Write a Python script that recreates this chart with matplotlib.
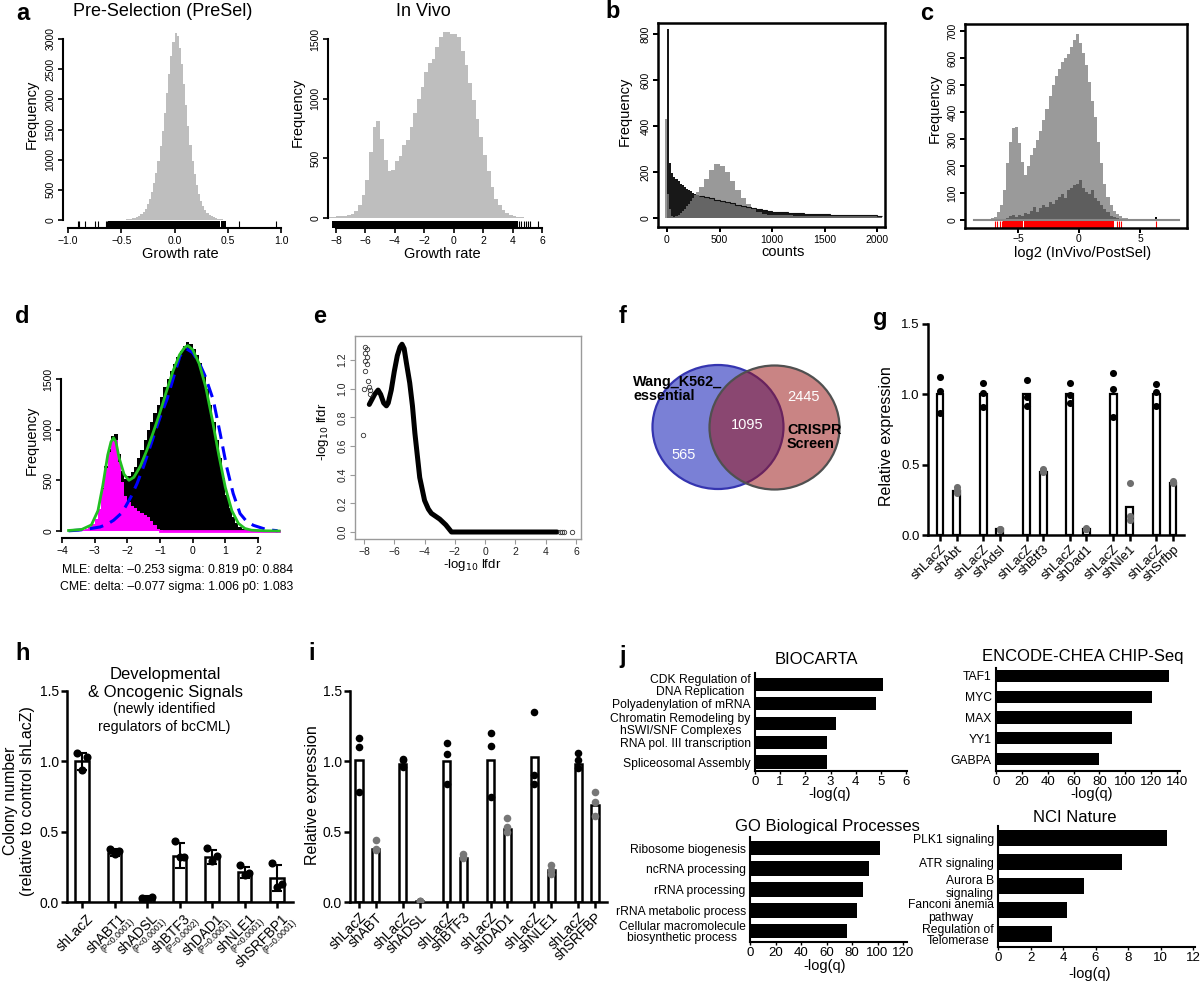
import numpy as np
import matplotlib
matplotlib.use('Agg')
import matplotlib.pyplot as plt
from matplotlib.patches import Ellipse

plt.rcParams['font.family'] = ['Liberation Sans', 'DejaVu Sans']

W, H = 1200, 981
fig = plt.figure(figsize=(W / 100, H / 100), dpi=100)

# ======================= DATA =======================
# a (left): Pre-selection growth rate histogram
a1_range = (-0.5, 0.5)
a1_counts = [5, 8, 10, 12, 18, 25, 35, 50, 70, 100, 140, 190, 260, 350, 470,
             610, 780, 980, 1220, 1480, 1780, 2100, 2420, 2720, 2950, 3100, 3050,
             2850, 2580, 2260, 1900, 1560, 1250, 980, 760, 580, 430, 320, 230, 165,
             120, 85, 60, 42, 30, 20, 14, 10, 7, 5]
a1_rug_dense = [(-0.62, 0.43), (0.44, 0.48)]
a1_rug_sparse = [-0.91, -0.895, -0.845, -0.745, -0.72, -0.64, -0.63, 0.61, 0.95]

# a (right): In vivo growth rate histogram
a2_range = (-8.5, 5.5)
a2_counts = [8, 12, 14, 16, 18, 22, 35, 60, 105, 190, 320, 550, 760, 810, 660,
             490, 390, 400, 480, 520, 610, 650, 760, 880, 1000, 1100, 1220, 1300,
             1330, 1430, 1520, 1560, 1555, 1545, 1540, 1520, 1400, 1280, 1130, 990,
             830, 680, 530, 390, 260, 160, 105, 65, 40, 25, 15, 10, 6, 4, 2, 1]
a2_rug_dense = [(-8.3, 4.35)]
a2_rug_sparse = [4.42, 4.6, 4.78, 4.93, 5.04, 5.16, 5.73]

# b: count histograms (A = dark, B = gray)
b_edges_fine = list(range(0, 301, 20))
b_edges_coarse = list(range(350, 2051, 50))
bA_counts = [820, 240, 195, 180, 170, 160, 150, 142, 135, 128, 122, 116, 110, 105, 100,
             95, 90, 85, 80, 74, 70, 64, 58, 53, 48, 42, 38, 34, 31,
             28, 26, 25, 23, 22, 20, 19, 18, 17, 16, 16, 15, 14, 14, 13, 13, 12, 12, 11, 11, 10]
bB_first_edge = -20
bB_counts = [430, 105, 40, 8, 6, 9, 15, 22, 30, 40, 51, 62, 73, 85, 98, 112,
             135, 168, 210, 235, 225, 200, 160, 120, 85, 60, 40, 26, 18, 14,
             12, 12, 11, 11, 10, 10, 10, 10, 9, 9, 9, 9, 9, 8, 8, 8, 8, 8, 8, 8, 8]

# c: log2(InVivo/PostSel)
c_light_range = (-7.5, 5.0)
c_light = [3, 6, 12, 28, 55, 110, 210, 290, 340, 345, 285, 215, 165, 200, 240,
           265, 295, 330, 370, 410, 460, 500, 535, 560, 585, 600, 615, 640, 665,
           690, 655, 620, 575, 510, 440, 380, 290, 210, 135, 85, 55, 35, 22, 14,
           9, 6, 4, 2, 1, 1]
c_dark_range = (-6.5, 3.75)
c_dark = [2, 5, 8, 14, 18, 12, 20, 16, 25, 22, 35, 50, 30, 45, 55, 48, 65, 58, 75,
          85, 95, 80, 110, 120, 130, 135, 150, 120, 105, 95, 110, 80, 70, 55, 40,
          28, 15, 10, 6, 3, 1]
c_baseline = (-8.6, 8.2)
c_outlier = (6.3, 10)
c_rug_dense = [(-6.2, -4.6), (-4.5, 2.9)]
c_rug_sparse = [-6.85, -6.7, -6.45, -6.3, 3.1, 3.25, 3.45, 6.3]

# d: mixture fit
d_range = (-3.8, 2.2)
d_black = [2, 4, 6, 9, 13, 22, 40, 70, 120, 220, 420, 640, 810, 940, 960, 760, 590,
           515, 540, 580, 630, 720, 800, 900, 1000, 1080, 1160, 1240, 1320, 1420,
           1500, 1580, 1650, 1720, 1780, 1830, 1870, 1850, 1800, 1740, 1660, 1540,
           1400, 1240, 1080, 900, 720, 520, 360, 230, 140, 75, 40, 18, 8, 4, 2, 1, 0, 0]
d_mag_range = (-3.8, -0.9)
d_magenta = [2, 4, 6, 9, 13, 22, 40, 70, 120, 215, 410, 620, 780, 900, 900, 680,
             480, 350, 290, 250, 230, 195, 175, 160, 140, 100, 60, 20, 5]
d_magenta_base = (-1.0, 2.65)
d_green_x = [-3.8, -3.4, -3.1, -2.9, -2.75, -2.6, -2.5, -2.42, -2.35, -2.25, -2.1, -1.95,
             -1.8, -1.6, -1.4, -1.2, -1.0, -0.8, -0.6, -0.4, -0.25, -0.15, 0.0, 0.2, 0.4,
             0.6, 0.8, 1.0, 1.2, 1.4, 1.6, 1.8, 2.2, 2.65]
d_green_y = [5, 15, 60, 200, 450, 750, 880, 920, 880, 720, 560, 500, 530, 640, 800,
             980, 1170, 1380, 1580, 1740, 1810, 1830, 1790, 1650, 1420, 1100, 750,
             430, 200, 75, 25, 8, 2, 0]
d_blue_x = [-3.8, -3.5, -3.2, -2.83, -2.6, -2.42, -2.2, -2.06, -1.9, -1.7, -1.5, -1.3,
            -1.0, -0.79, -0.6, -0.39, -0.2, 0.0, 0.2, 0.38, 0.63, 0.84, 1.04, 1.24,
            1.45, 1.65, 1.86, 2.27, 2.6]
d_blue_y = [2, 8, 20, 40, 70, 106, 170, 238, 330, 470, 640, 833, 1120, 1295, 1500,
            1725, 1800, 1760, 1660, 1530, 1295, 965, 634, 370, 172, 95, 56, 13, 3]
d_mle = "MLE: delta: \u20130.253 sigma: 0.819 p0: 0.884"
d_cme = "CME: delta: \u20130.077 sigma: 1.006 p0: 1.083"

# e: -log10 lfdr curve
e_curve_x = [-7.65, -7.5, -7.3, -7.07, -6.9, -6.7, -6.52, -6.4, -6.2, -6.0, -5.8,
             -5.62, -5.49, -5.35, -5.2, -4.98, -4.8, -4.64, -4.32, -4.0, -3.75, -3.55,
             -3.0, -2.6, -2.22, 4.75]
e_curve_y = [0.89, 0.92, 0.96, 0.99, 0.96, 0.9, 0.88, 0.9, 0.99, 1.12, 1.23,
             1.29, 1.31, 1.28, 1.18, 1.04, 0.88, 0.69, 0.38, 0.22, 0.16, 0.13,
             0.09, 0.05, 0.0, 0.0]
e_pts_x = [-8.07, -8.0, -7.91, -7.78, -7.93, -7.8, -7.91, -7.78, -7.91, -7.71,
           -7.67, -7.63, -7.58, 4.93, 5.08, 5.19, 5.76]
e_pts_y = [0.676, 1.0, 1.29, 1.275, 1.25, 1.22, 1.19, 1.17, 1.12, 1.05,
           1.01, 0.99, 0.96, 0.0, 0.0, 0.0, 0.0]

# f: Venn
f_only_wang, f_both, f_only_crispr = 565, 1095, 2445
f_names = ["Wang_K562_\nessential", "CRISPR\nScreen"]

# g: relative expression (mouse)
g_labels = ["shLacZ", "shAbt", "shLacZ", "shAdsl", "shLacZ", "shBtf3",
            "shLacZ", "shDad1", "shLacZ", "shNle1", "shLacZ", "shSrfbp"]
g_bars = [1.0, 0.31, 1.0, 0.04, 1.0, 0.45, 1.0, 0.04, 1.0, 0.20, 1.0, 0.37]
g_dots = [[1.125, 1.026, 0.87], [0.339, 0.296, 0.32], [1.083, 1.007, 0.912],
          [0.04, 0.04, 0.035], [1.10, 0.983, 0.917], [0.467, 0.45, 0.46],
          [1.078, 0.995, 0.936], [0.05, 0.04, 0.04], [1.149, 1.038, 0.841],
          [0.372, 0.135, 0.107], [1.073, 1.019, 0.917], [0.385, 0.38, 0.37]]

# h: colony number
h_labels = ["shLacZ", "shABT1", "shADSL", "shBTF3", "shDAD1", "shNLE1", "shSRFBP1"]
h_pvals = ["", "(P<0.0001)", "(P<0.0001)", "(P=0.0002)", "(P=0.0001)", "(P<0.0001)", "(P=0.0001)"]
h_bars = [1.0, 0.35, 0.025, 0.33, 0.32, 0.21, 0.17]
h_err = [0.06, 0.025, 0.015, 0.09, 0.05, 0.04, 0.09]
h_dots = [[1.057, 1.033, 0.938], [0.374, 0.362, 0.341], [0.026, 0.038, 0.02],
          [0.436, 0.318, 0.318], [0.386, 0.327, 0.294], [0.263, 0.208, 0.19],
          [0.275, 0.13, 0.11]]

# i: relative expression (human)
i_labels = ["shLacZ", "shABT", "shLacZ", "shADSL", "shLacZ", "shBTF3",
            "shLacZ", "shDAD1", "shLacZ", "shNLE1", "shLacZ", "shSRFBP"]
i_bars = [1.01, 0.38, 0.98, 0.005, 1.0, 0.31, 1.01, 0.52, 1.03, 0.23, 0.98, 0.69]
i_dots = [[1.164, 1.1, 0.78], [0.44, 0.375, 0.37], [1.02, 1.01, 0.96],
          [0.006, 0.004, 0.005], [1.128, 1.05, 0.84], [0.34, 0.32, 0.31],
          [1.2, 1.11, 0.75], [0.6, 0.53, 0.5], [1.35, 0.9, 0.84],
          [0.26, 0.23, 0.2], [1.06, 1.01, 0.95], [0.78, 0.71, 0.61]]

# j: enrichment
bio_terms = ["CDK Regulation of\nDNA Replication", "Polyadenylation of mRNA",
             "Chromatin Remodeling by\nhSWI/SNF Complexes", "RNA pol. III transcription",
             "Spliceosomal Assembly"]
bio_vals = [5.08, 4.8, 3.2, 2.85, 2.85]
enc_terms = ["TAF1", "MYC", "MAX", "YY1", "GABPA"]
enc_vals = [134, 121, 105, 90, 80]
go_terms = ["Ribosome biogenesis", "ncRNA processing", "rRNA processing",
            "rRNA metabolic process", "Cellular macromolecule\nbiosynthetic process"]
go_vals = [102, 93, 89, 84, 76]
nci_terms = ["PLK1 signaling", "ATR signaling", "Aurora B\nsignaling",
             "Fanconi anemia\npathway", "Regulation of\nTelomerase"]
nci_vals = [10.4, 7.65, 5.3, 4.25, 3.3]


# ======================= HELPERS =======================
def T(x, y, s, size, **kw):
    kw.setdefault('ha', 'center')
    kw.setdefault('va', 'center')
    fig.text(x / W, 1 - y / H, s, fontsize=size, **kw)


def rax(box, xr, yr):
    x0, y0, x1, y1 = box
    ax = fig.add_axes([x0 / W, 1 - y1 / H, (x1 - x0) / W, (y1 - y0) / H])
    (va, pa), (vb, pb) = xr
    s = (vb - va) / (pb - pa)
    ax.set_xlim(va + (x0 - pa) * s, va + (x1 - pa) * s)
    (va, pa), (vb, pb) = yr
    s = (vb - va) / (pb - pa)
    ax.set_ylim(va + (y1 - pa) * s, va + (y0 - pa) * s)
    ax.patch.set_alpha(0)
    return ax


def r_style(ax, xt, xtl, yt, ytl, box=False, lw=1.5, fs=7.5, color='black', lcolor='black'):
    for sp in ax.spines.values():
        sp.set_linewidth(lw)
        sp.set_color(color)
    if not box:
        ax.spines['top'].set_visible(False)
        ax.spines['right'].set_visible(False)
        ax.spines['bottom'].set_bounds(xt[0], xt[-1])
        ax.spines['left'].set_bounds(yt[0], yt[-1])
    ax.set_xticks(xt)
    ax.set_xticklabels(xtl, fontsize=fs, color=lcolor)
    ax.set_yticks(yt)
    ax.set_yticklabels(ytl, fontsize=fs, rotation=90, va='center', color=lcolor)
    ax.tick_params(length=3.5, width=lw * 0.8, pad=2, color=color)


def edges(rng, n):
    return np.linspace(rng[0], rng[1], n + 1)


def rug(ax, dense, sparse, frac, color):
    for a, b in dense:
        ax.axvspan(a, b, ymin=0, ymax=frac, color=color, lw=0)
    ax.vlines(sparse, 0, frac, transform=ax.get_xaxis_transform(), color=color, lw=0.8)


def p_style(ax, fs):
    ax.spines['top'].set_visible(False)
    ax.spines['right'].set_visible(False)
    for k in ('left', 'bottom'):
        ax.spines[k].set_linewidth(1.8)
    ax.set_yticks([0, 0.5, 1.0, 1.5])
    ax.set_yticklabels(['0.0', '0.5', '1.0', '1.5'], fontsize=fs)
    ax.tick_params(length=4, width=1.8, pad=2)


def pair_positions(n):
    return [(k // 2) * 2.62 + (k % 2) for k in range(n)]


# ======================= PANEL a =======================
ax = rax((63, 25, 287, 228), ((-1, 68), (1, 281)), ((0, 220), (3000, 39)))
ax.stairs(a1_counts, edges(a1_range, len(a1_counts)), fill=True, color='#bebebe', lw=0)
rug(ax, a1_rug_dense, a1_rug_sparse, 0.034, 'black')
r_style(ax, [-1, -0.5, 0, 0.5, 1], ['\u22121.0', '\u22120.5', '0.0', '0.5', '1.0'],
        [0, 500, 1000, 1500, 2000, 2500, 3000],
        ['0', '500', '1000', '1500', '2000', '2500', '3000'])
T(163, 12, "Pre-Selection (PreSel)", 13)
T(32, 114, "Frequency", 10.5, rotation=90)
T(180, 254, "Growth rate", 10.5)

ax = rax((328, 25, 548, 228), ((-8, 336), (6, 542)), ((0, 218), (1500, 39)))
ax.stairs(a2_counts, edges(a2_range, len(a2_counts)), fill=True, color='#bebebe', lw=0)
rug(ax, a2_rug_dense, a2_rug_sparse, 0.034, 'black')
r_style(ax, [-8, -6, -4, -2, 0, 2, 4, 6],
        ['\u22128', '\u22126', '\u22124', '\u22122', '0', '2', '4', '6'],
        [0, 500, 1000, 1500], ['0', '500', '1000', '1500'])
T(423, 12, "In Vivo", 13)
T(298, 112, "Frequency", 10.5, rotation=90)
T(442, 254, "Growth rate", 10.5)

# ======================= PANEL b =======================
ax = rax((658, 23, 885, 227), ((0, 667), (2000, 877)), ((0, 218), (800, 34)))
bA_edges = b_edges_fine + b_edges_coarse
bB_edges = [bB_first_edge] + bA_edges
ax.stairs(bA_counts, bA_edges, fill=True, color='#181818', lw=0)
ax.stairs(bB_counts, bB_edges, fill=True, color=(0.486, 0.486, 0.486, 0.78), lw=0)
ax.stairs(bA_counts[len(b_edges_fine) - 1:], bA_edges[len(b_edges_fine) - 1:],
          baseline=None, fill=False, color='#111111', lw=0.8)
r_style(ax, [0, 500, 1000, 1500, 2000], ['0', '500', '1000', '1500', '2000'],
        [0, 200, 400, 600, 800], ['0', '200', '400', '600', '800'], box=True, lw=1.8)
T(625, 111, "Frequency", 10.5, rotation=90)
T(783, 252, "counts", 10.5)

# ======================= PANEL c =======================
ax = rax((965, 24, 1187, 228), ((-5, 1018), (5, 1140)), ((0, 220), (700, 31)))
ax.plot(c_baseline, [0, 0], color='#8a8a8a', lw=1.5)
ax.stairs(c_light, edges(c_light_range, len(c_light)), fill=True, color='#9a9a9a', lw=0)
ax.stairs(c_dark, edges(c_dark_range, len(c_dark)), fill=True, color='#5e5e5e', lw=0)
ax.bar([c_outlier[0]], [c_outlier[1]], width=0.12, color='black')
rug(ax, c_rug_dense, c_rug_sparse, 0.034, '#ff0000')
r_style(ax, [-5, 0, 5], ['\u22125', '0', '5'], [0, 100, 200, 300, 400, 500, 600, 700],
        ['0', '100', '200', '300', '400', '500', '600', '700'], box=True, lw=1.8)
ax.tick_params(axis='x', pad=1)
T(935, 108, "Frequency", 10.5, rotation=90)
T(1083, 253, "log2 (InVivo/PostSel)", 10.5)

# ======================= PANEL d =======================
ax = rax((61, 335, 282, 538), ((-4, 62), (2, 258)), ((0, 531), (1500, 379)))
ax.stairs(d_black, edges(d_range, len(d_black)), fill=True, color='black', lw=0)
ax.stairs(d_magenta, edges(d_mag_range, len(d_magenta)), fill=True, color='#ff00ff', lw=0)
ax.plot(d_magenta_base, [0, 0], color='#ff00ff', lw=2)
ax.plot(d_blue_x, d_blue_y, color='#0000ff', lw=2.2, ls=(0, (4.5, 2.5)))
ax.plot(d_green_x, d_green_y, color='#22c022', lw=2.0)
r_style(ax, [-4, -3, -2, -1, 0, 1, 2], ['\u22124', '\u22123', '\u22122', '\u22121', '0', '1', '2'],
        [0, 500, 1000, 1500], ['0', '500', '1000', '1500'])
T(32, 440, "Frequency", 10.5, rotation=90)
T(177, 570, d_mle, 8.8)
T(177, 587, d_cme, 8.8)

# ======================= PANEL e =======================
ax = rax((355, 336, 581, 539), ((-8, 364), (6, 576)), ((0, 532), (1.2, 360)))
ax.plot(e_curve_x, e_curve_y, color='black', lw=3.6, solid_capstyle='round', solid_joinstyle='round')
ax.plot(e_pts_x, e_pts_y, ls='none', marker='o', ms=3.2, mfc='none', mec='#333333', mew=0.6)
r_style(ax, [-8, -6, -4, -2, 0, 2, 4, 6],
        ['\u22128', '\u22126', '\u22124', '\u22122', '0', '2', '4', '6'],
        [0, 0.2, 0.4, 0.6, 0.8, 1.0, 1.2], ['0.0', '0.2', '0.4', '0.6', '0.8', '1.0', '1.2'],
        box=True, lw=1.0, fs=7.5, color='#9a9a9a', lcolor='#222222')
T(323, 432, r"-log$_{10}$ lfdr", 9.5, rotation=90)
T(472, 565, r"-log$_{10}$ lfdr", 9.5)

# ======================= PANEL f =======================
axv = fig.add_axes([620 / W, 1 - 510 / H, 240 / W, 160 / H])
axv.set_xlim(620, 860)
axv.set_ylim(510, 350)
axv.axis('off')
axv.add_patch(Ellipse((718, 427), 131, 124, facecolor=(0.48, 0.50, 0.84), edgecolor='#3535b0', lw=1.6))
axv.add_patch(Ellipse((774.5, 427.5), 130, 124, facecolor=(0.6, 0.08, 0.08, 0.52),
                      edgecolor='#505050', lw=1.6))
T(633, 389, f_names[0], 10.4, ha='left', fontweight='bold', linespacing=1.05)
T(787, 437, f_names[1], 10.4, ha='left', fontweight='bold', linespacing=1.05)
T(747, 425, str(f_both), 10.5, color='white')
T(684, 455, str(f_only_wang), 10.5, color='white')
T(803, 397, str(f_only_crispr), 10.5, color='white')

# ======================= PANEL g =======================
ax = rax((928, 324, 1184, 535), ((0, 940), (14.1, 1173)), ((0, 535), (1.5, 324)))
pos = pair_positions(len(g_labels))
ax.bar(pos, g_bars, width=0.42, facecolor='white', edgecolor='black', lw=1.6, zorder=2)
for k, (p, ds) in enumerate(zip(pos, g_dots)):
    ax.scatter([p] * len(ds), ds, s=26, color='black' if k % 2 == 0 else '#6e6e6e',
               zorder=3, lw=0)
p_style(ax, 9.5)
ax.set_xticks(pos)
ax.set_xticklabels(g_labels, rotation=45, ha='right', rotation_mode='anchor', fontsize=9.5)
T(887, 436, "Relative expression", 11.5, rotation=90)

# ======================= PANEL h =======================
ax = rax((67, 691, 293, 902), ((0, 82), (6, 277)), ((0, 902), (1.5, 691)))
hpos = list(range(len(h_labels)))
ax.bar(hpos, h_bars, width=0.43, facecolor='white', edgecolor='black', lw=1.8, zorder=2)
ax.errorbar(hpos, h_bars, yerr=h_err, fmt='none', ecolor='black', elinewidth=1.5,
            capsize=3.5, capthick=1.5, zorder=3)
h_jit = [-0.15, 0.15, 0.0]
for p, ds in zip(hpos, h_dots):
    ax.scatter([p + j for j in h_jit], ds, s=34, color='black', zorder=4, lw=0)
p_style(ax, 10)
ax.set_xticks(hpos)
ax.set_xticklabels([])
for p, lab, pv in zip(hpos, h_labels, h_pvals):
    ax.annotate(lab, xy=(p, 0), xycoords=('data', 'axes fraction'), xytext=(3, -7),
                textcoords='offset points', rotation=45, ha='right', va='top',
                rotation_mode='anchor', fontsize=10)
    if pv:
        ax.annotate(pv, xy=(p, 0), xycoords=('data', 'axes fraction'), xytext=(11, -11),
                    textcoords='offset points', rotation=45, ha='right', va='top',
                    rotation_mode='anchor', fontsize=6.3)
T(19, 801, "Colony number\n(relative to control shLacZ)", 11.5, rotation=90, linespacing=1.1)
T(165, 675, "Developmental", 12)
T(165, 693, "& Oncogenic Signals", 12)
T(164, 709, "(newly identified", 10.2)
T(164, 727, "regulators of bcCML)", 10.2)

# ======================= PANEL i =======================
ax = rax((350, 691, 607, 902), ((0, 359), (14.1, 595)), ((0, 902), (1.5, 691)))
pos = pair_positions(len(i_labels))
ax.bar(pos, i_bars, width=0.42, facecolor='white', edgecolor='black', lw=1.8, zorder=2)
for k, (p, ds) in enumerate(zip(pos, i_dots)):
    ax.scatter([p] * len(ds), ds, s=30, color='black' if k % 2 == 0 else '#777777',
               zorder=3, lw=0)
p_style(ax, 10)
ax.set_xticks(pos)
ax.set_xticklabels(i_labels, rotation=45, ha='right', rotation_mode='anchor', fontsize=10)
T(312, 795, "Relative expression", 11.5, rotation=90)


# ======================= PANEL j =======================
def jpanel(box, xr, yr, terms, vals, xt, height, title, txy, lxy):
    ax = rax(box, xr, yr)
    ax.barh(range(len(vals)), vals, height=height, color='black', zorder=2)
    ax.spines['top'].set_visible(False)
    ax.spines['right'].set_visible(False)
    for k in ('left', 'bottom'):
        ax.spines[k].set_linewidth(1.5)
    ax.set_yticks(range(len(terms)))
    ax.set_yticklabels(terms, fontsize=8.7, multialignment='center', linespacing=1.0)
    ax.tick_params(axis='y', length=0, pad=3)
    ax.set_xticks(xt)
    ax.set_xticklabels([str(v) for v in xt], fontsize=9.5)
    ax.tick_params(axis='x', length=2, width=1, pad=1.5)
    T(txy[0], txy[1], title, 12)
    T(lxy[0], lxy[1], "-log(q)", 10.5)


jpanel((755, 673, 907, 771), ((0, 755), (6, 906)), ((0, 684.5), (4, 762)), bio_terms, bio_vals,
       [0, 1, 2, 3, 4, 5, 6], 0.68, "BIOCARTA", (816, 660), (830, 794))
jpanel((996, 668, 1180, 771), ((0, 996), (140, 1177)), ((0, 676), (4, 759)), enc_terms, enc_vals,
       [0, 20, 40, 60, 80, 100, 120, 140], 0.6, "ENCODE-CHEA CHIP-Seq", (1083, 657), (1092, 794))
jpanel((750, 837, 907, 942), ((0, 750), (120, 903)), ((0, 848), (4, 931)), go_terms, go_vals,
       [0, 20, 40, 60, 80, 100, 120], 0.7, "GO Biological Processes", (827, 826), (825, 966))
jpanel((998, 826, 1195, 947), ((0, 998), (12, 1193)), ((0, 838), (4, 934)), nci_terms, nci_vals,
       [0, 2, 4, 6, 8, 10, 12], 0.7, "NCI Nature", (1075, 817), (1090, 974))

# ======================= panel letters =======================
for lt, x, y in [('a', 23, 13), ('b', 613, 11), ('c', 927, 13), ('d', 22, 317), ('e', 320, 317),
                 ('f', 623, 317), ('g', 880, 318), ('h', 23, 653), ('i', 312, 653), ('j', 623, 656)]:
    T(x, y, lt, 17, fontweight='bold')

fig.savefig('out.png', dpi=100)
